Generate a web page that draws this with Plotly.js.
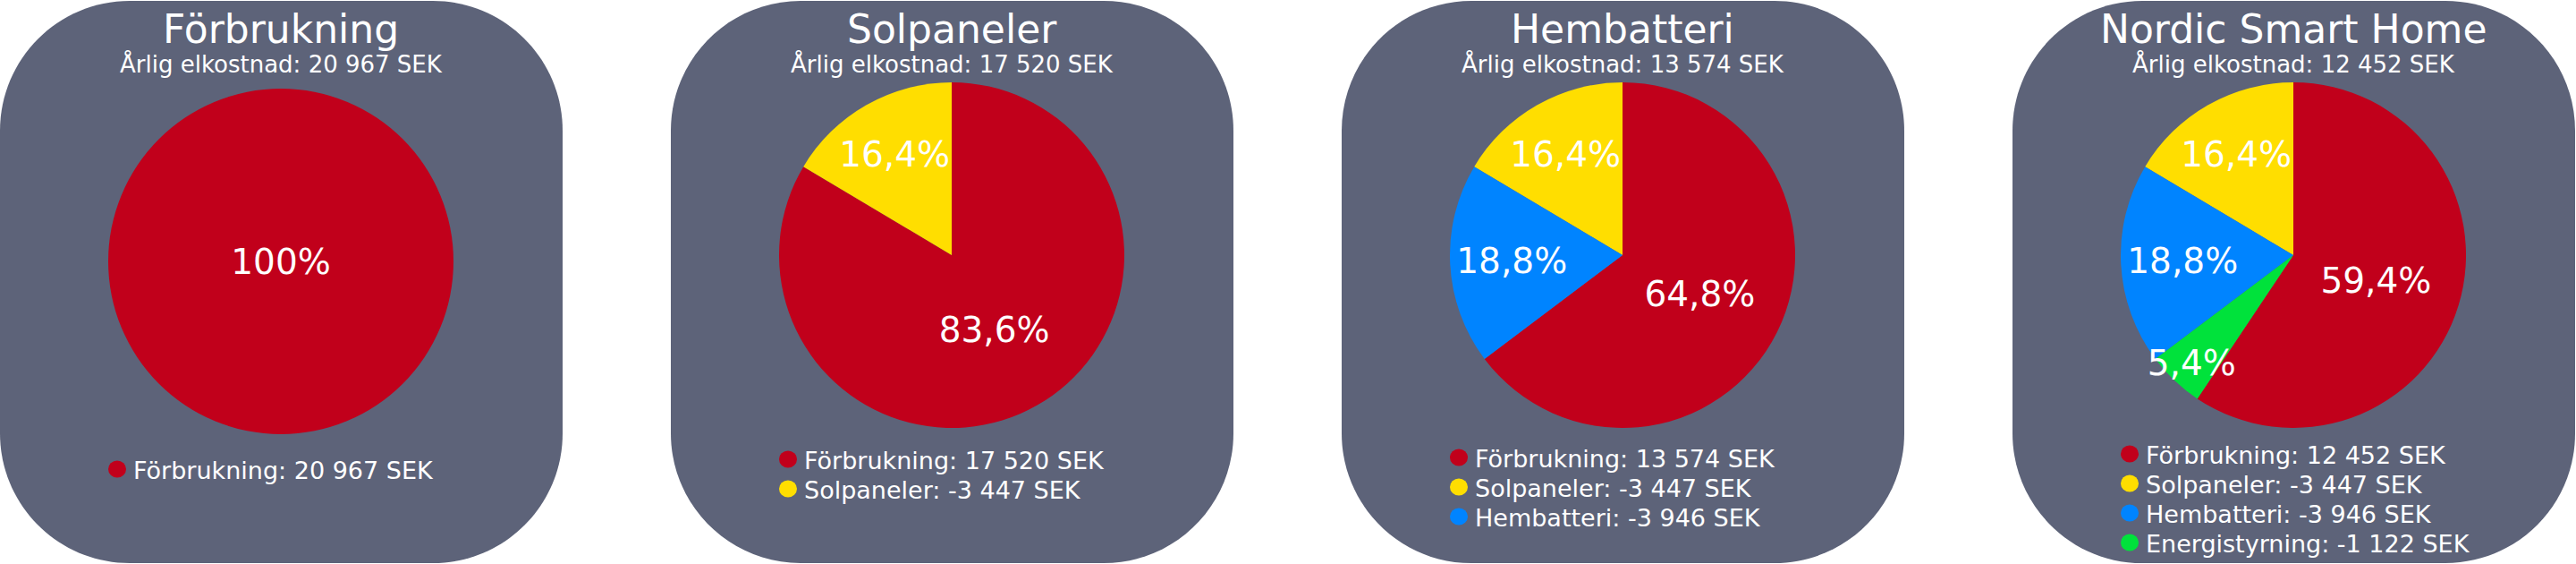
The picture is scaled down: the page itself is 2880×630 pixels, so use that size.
<!DOCTYPE html>
<html>
<head>
<meta charset="utf-8">
<script src="https://cdn.plot.ly/plotly-3.0.1.min.js"></script>
<style>
  html, body { margin: 0; padding: 0; background: #ffffff; }
  #chart { width: 2880px; height: 630px; }
</style>
</head>
<body>
<div id="chart"></div>
<script>
// ---- data ----
const panelTitles = ['Förbrukning', 'Solpaneler', 'Hembatteri', 'Nordic Smart Home'];
const annualCost = [20967, 17520, 13574, 12452];
const categoryNames = ['Förbrukning', 'Solpaneler', 'Hembatteri', 'Energistyrning'];
const panel1Amounts = [20967];
const panel2Amounts = [17520, -3447];
const panel3Amounts = [13574, -3447, -3946];
const panel4Amounts = [12452, -3447, -3946, -1122];
const panel1Percent = ['100%'];
const panel2Percent = ['83,6%', '16,4%'];
const panel3Percent = ['64,8%', '16,4%', '18,8%'];
const panel4Percent = ['59,4%', '16,4%', '18,8%', '5,4%'];
const categoryColors = ['#c1001b', '#ffde00', '#0084ff', '#00e23b'];

const panelAmounts = [panel1Amounts, panel2Amounts, panel3Amounts, panel4Amounts];
const panelPercent = [panel1Percent, panel2Percent, panel3Percent, panel4Percent];

// ---- layout helpers (pixels -> paper) ----
const W = 2880, H = 630;
const PX = v => v / W;
const PY = v => 1 - v / H;
const FONT = 'DejaVu Sans, Verdana, sans-serif';
const PANEL_BG = '#5d6379';
const panelStep = 750, panelW = 629, panelTop = 1, panelBottom = 629, cornerR = 145;
const pieCx = 314, pieR = 193;
const pieCy = [292, 285, 285, 285];
const legendFirstRow = [524, 513, 511, 507];
const legendRowGap = 33;

function fmtSEK(n) {
  const s = Math.abs(n).toString().replace(/\B(?=(\d{3})+(?!\d))/g, ' ');
  return (n < 0 ? '-' : '') + s + ' SEK';
}

function roundedRect(x0, y0, x1, y1, r) {
  const k = 0.5523 * r;
  const p = (x, y) => PX(x).toFixed(6) + ',' + PY(y).toFixed(6);
  return 'M' + p(x0 + r, y0) +
    ' L' + p(x1 - r, y0) +
    ' C' + p(x1 - r + k, y0) + ' ' + p(x1, y0 + r - k) + ' ' + p(x1, y0 + r) +
    ' L' + p(x1, y1 - r) +
    ' C' + p(x1, y1 - r + k) + ' ' + p(x1 - r + k, y1) + ' ' + p(x1 - r, y1) +
    ' L' + p(x0 + r, y1) +
    ' C' + p(x0 + r - k, y1) + ' ' + p(x0, y1 - r + k) + ' ' + p(x0, y1 - r) +
    ' L' + p(x0, y0 + r) +
    ' C' + p(x0, y0 + r - k) + ' ' + p(x0 + r - k, y0) + ' ' + p(x0 + r, y0) + ' Z';
}

const traces = [];
const shapes = [];
const annotations = [];

panelTitles.forEach((title, i) => {
  const left = i * panelStep;
  const amounts = panelAmounts[i];
  const names = categoryNames.slice(0, amounts.length);
  const labels = names.map((n, j) => n + ': ' + fmtSEK(amounts[j]));
  const cx = left + pieCx;
  const cy = pieCy[i];

  shapes.push({
    type: 'path', xref: 'paper', yref: 'paper', layer: 'below',
    path: roundedRect(left, panelTop, left + panelW, panelBottom, cornerR),
    fillcolor: PANEL_BG, line: { width: 0 }
  });

  traces.push({
    type: 'pie',
    labels: labels,
    values: amounts.map(Math.abs),
    text: panelPercent[i],
    texttemplate: '%{text}',
    textposition: 'inside',
    insidetextorientation: 'horizontal',
    textfont: { family: FONT, size: 39, color: '#ffffff' },
    sort: false,
    direction: 'counterclockwise',
    rotation: 0,
    marker: { colors: categoryColors.slice(0, amounts.length), line: { width: 0 } },
    domain: {
      x: [PX(cx - pieR), PX(cx + pieR)],
      y: [PY(cy + pieR), PY(cy - pieR)]
    },
    showlegend: false,
    hovertemplate: '%{label}<extra></extra>'
  });

  annotations.push({
    xref: 'paper', yref: 'paper', x: PX(cx), y: PY(32),
    xanchor: 'center', yanchor: 'middle', showarrow: false,
    text: title, font: { family: FONT, size: 44, color: '#ffffff' },
    borderpad: 0, borderwidth: 0
  });
  annotations.push({
    xref: 'paper', yref: 'paper', x: PX(cx), y: PY(71),
    xanchor: 'center', yanchor: 'middle', showarrow: false,
    text: 'Årlig elkostnad: ' + fmtSEK(annualCost[i]),
    font: { family: FONT, size: 26, color: '#ffffff' },
    borderpad: 0, borderwidth: 0
  });

  labels.forEach((lab, j) => {
    const rowY = legendFirstRow[i] + j * legendRowGap;
    const dotX = cx - pieR + 10;
    shapes.push({
      type: 'circle', xref: 'paper', yref: 'paper', layer: 'above',
      x0: PX(dotX - 10), x1: PX(dotX + 10),
      y0: PY(rowY + 9.5), y1: PY(rowY - 9.5),
      fillcolor: categoryColors[j], line: { width: 0 }
    });
    annotations.push({
      xref: 'paper', yref: 'paper', x: PX(dotX + 18), y: PY(rowY + 1.5),
      xanchor: 'left', yanchor: 'middle', showarrow: false,
      text: lab, font: { family: FONT, size: 27, color: '#ffffff' },
      borderpad: 0, borderwidth: 0
    });
  });
});

const layout = {
  width: W, height: H,
  margin: { l: 0, r: 0, t: 0, b: 0, pad: 0 },
  paper_bgcolor: '#ffffff',
  plot_bgcolor: '#ffffff',
  showlegend: false,
  uniformtext: { minsize: 39, mode: 'show' },
  font: { family: FONT, color: '#ffffff' },
  shapes: shapes,
  annotations: annotations
};

Plotly.newPlot('chart', traces, layout, { displayModeBar: false, staticPlot: true });
</script>
</body>
</html>
